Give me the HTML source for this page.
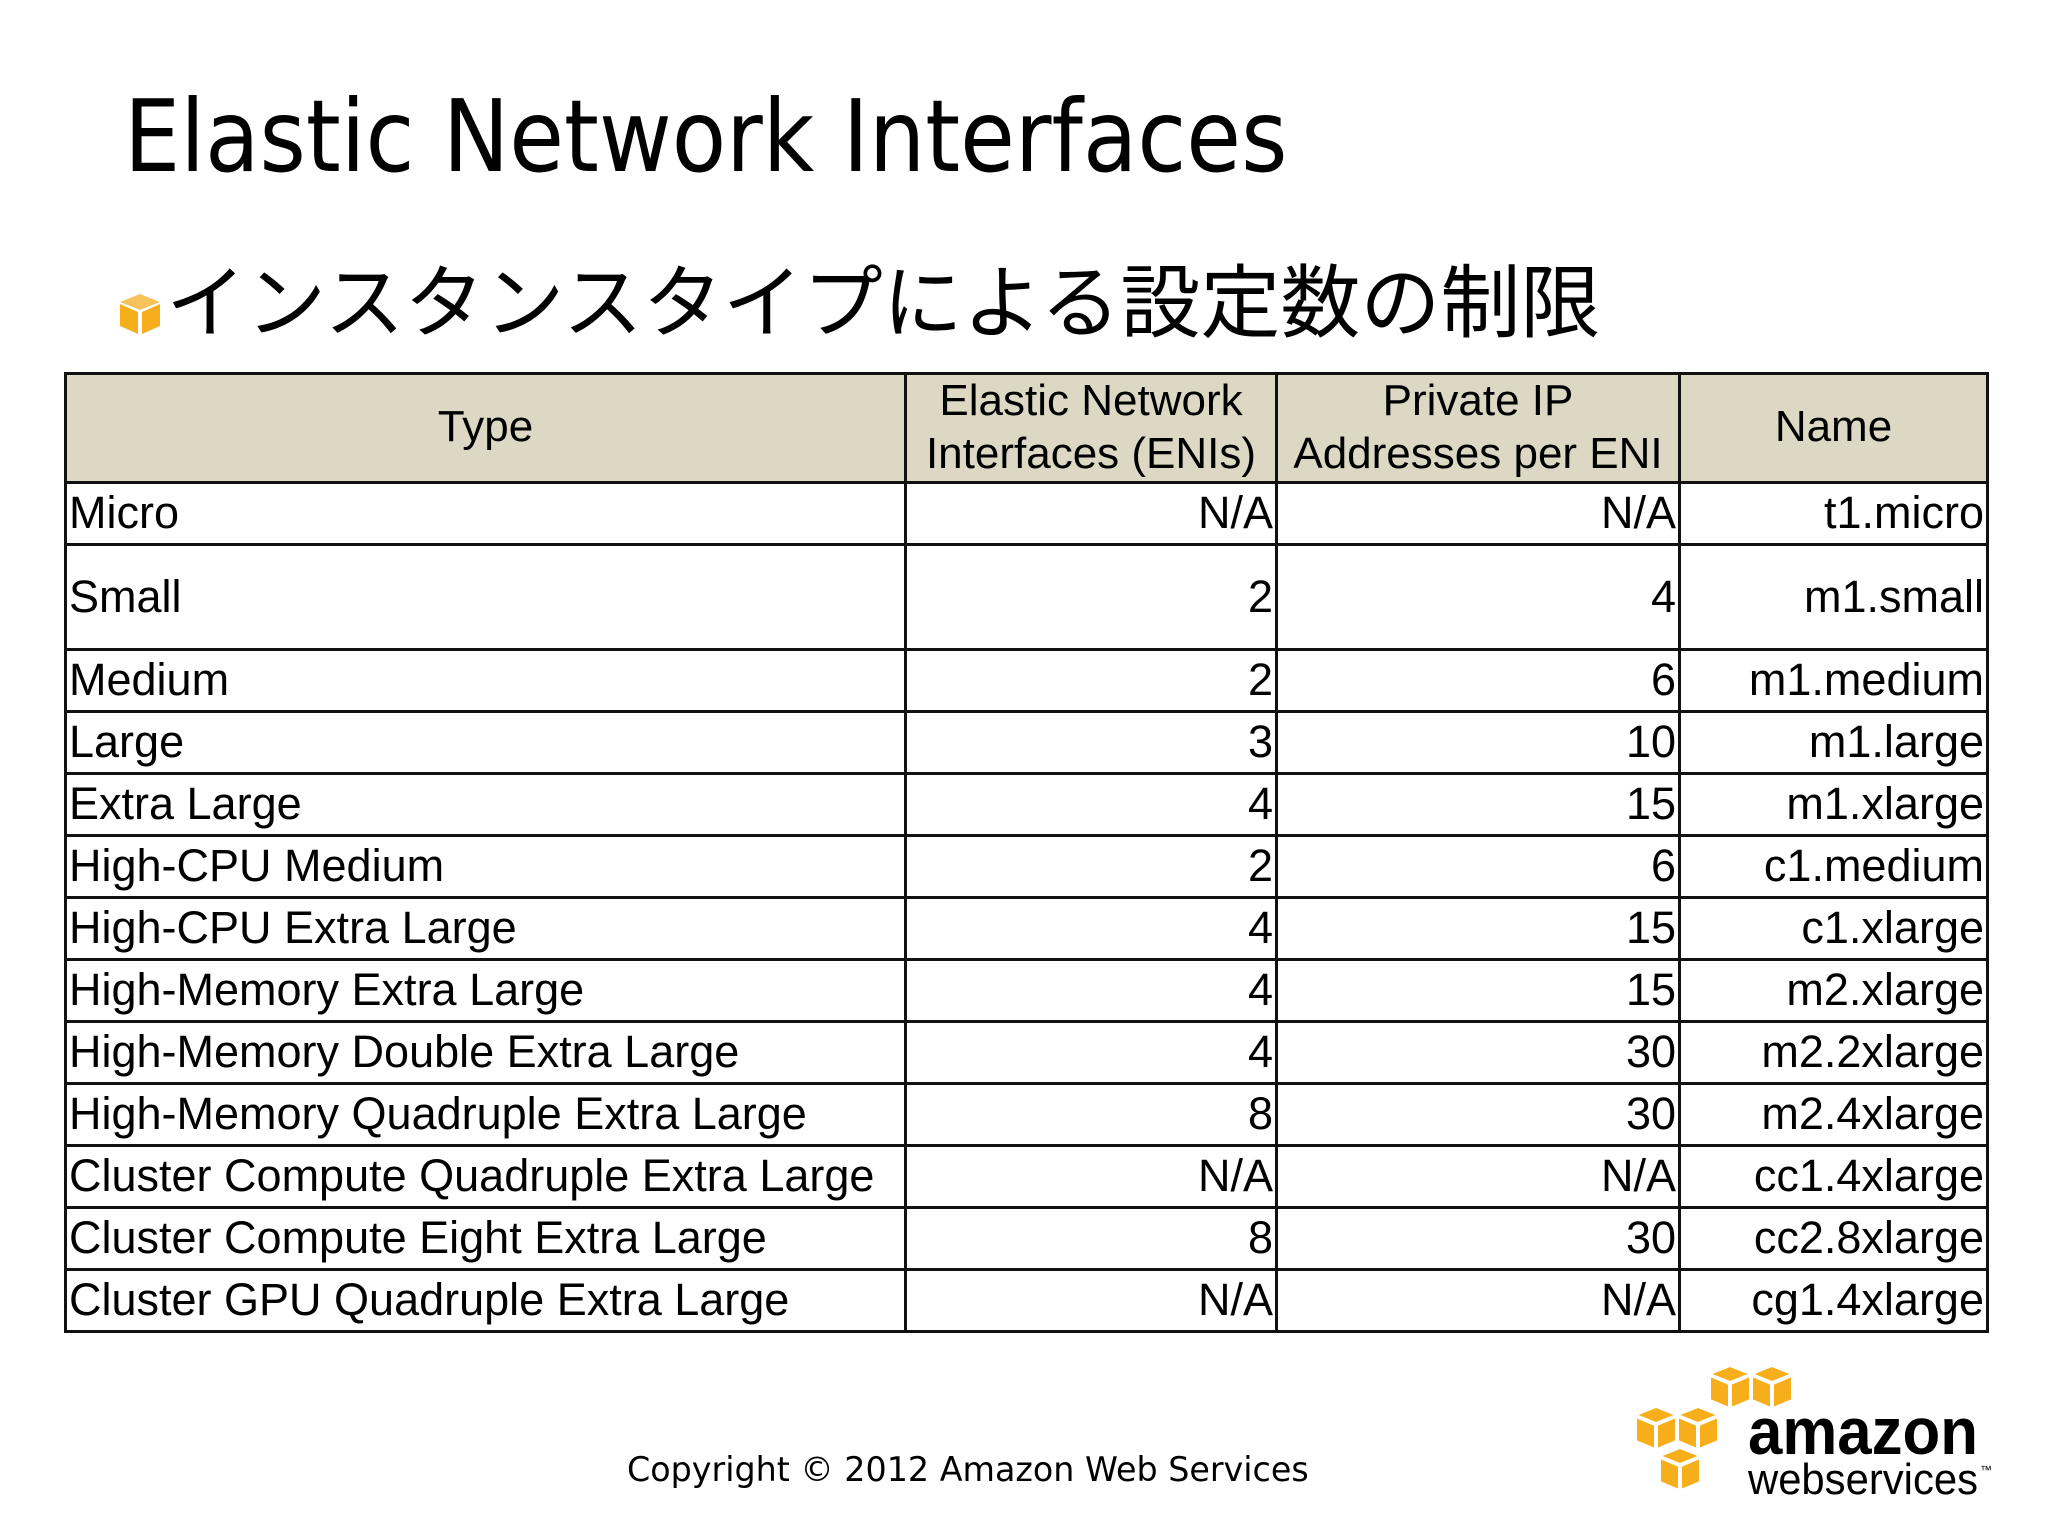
<!DOCTYPE html>
<html><head><meta charset="utf-8">
<style>
html,body{margin:0;padding:0;background:#fff;}
body{width:2048px;height:1536px;position:relative;overflow:hidden;font-family:"Liberation Sans",Arial,sans-serif;}
.title{position:absolute;left:124px;top:78px;font-family:"DejaVu Sans",sans-serif;font-size:100px;color:#000;white-space:nowrap;transform:scaleX(0.89);transform-origin:left top;}
.sub{position:absolute;left:166px;top:260px;font-family:"Liberation Sans","Noto Sans CJK JP",sans-serif;font-size:80px;white-space:nowrap;line-height:1.1;}
.bullet{position:absolute;left:116px;top:290px;}
table{position:absolute;left:64px;top:372px;border-collapse:collapse;font-size:45px;table-layout:fixed;}
td,th{border:3px solid #111;padding:0 2px 0 2px;white-space:nowrap;overflow:hidden;}
th{background:#dcd8c4;font-weight:normal;line-height:1.2;text-align:center;height:105px;font-size:44px;}
td.r{text-align:right;}
td.l{text-align:left;}
.copy{position:absolute;left:627px;top:1450px;font-family:"DejaVu Sans",sans-serif;font-size:34px;white-space:nowrap;transform:scaleX(0.98);transform-origin:left top;}
.logo{position:absolute;left:1636px;top:1362px;}
</style></head><body>
<div class="title">Elastic Network Interfaces</div>
<svg class="bullet" width="48" height="48" viewBox="0 0 48 48">
<polygon points="24,4 44,12 24,20 4,12" fill="#f7c25a"/>
<polygon points="4,14 22,22 22,44 4,36" fill="#f6ae1b"/>
<polygon points="26,22 44,14 44,36 26,44" fill="#f6ae1b"/>
</svg>
<div class="sub">インスタンスタイプによる設定数の制限</div>
<table>
<colgroup><col style="width:840px"><col style="width:371px"><col style="width:403px"><col style="width:308px"></colgroup>
<tr><th>Type</th><th>Elastic Network<br>Interfaces (ENIs)</th><th>Private IP<br>Addresses per ENI</th><th>Name</th></tr>
<tr style="height:62px"><td class="l">Micro</td><td class="r">N/A</td><td class="r">N/A</td><td class="r">t1.micro</td></tr>
<tr style="height:105px"><td class="l">Small</td><td class="r">2</td><td class="r">4</td><td class="r">m1.small</td></tr>
<tr style="height:62px"><td class="l">Medium</td><td class="r">2</td><td class="r">6</td><td class="r">m1.medium</td></tr>
<tr style="height:62px"><td class="l">Large</td><td class="r">3</td><td class="r">10</td><td class="r">m1.large</td></tr>
<tr style="height:62px"><td class="l">Extra Large</td><td class="r">4</td><td class="r">15</td><td class="r">m1.xlarge</td></tr>
<tr style="height:62px"><td class="l">High-CPU Medium</td><td class="r">2</td><td class="r">6</td><td class="r">c1.medium</td></tr>
<tr style="height:62px"><td class="l">High-CPU Extra Large</td><td class="r">4</td><td class="r">15</td><td class="r">c1.xlarge</td></tr>
<tr style="height:62px"><td class="l">High-Memory Extra Large</td><td class="r">4</td><td class="r">15</td><td class="r">m2.xlarge</td></tr>
<tr style="height:62px"><td class="l">High-Memory Double Extra Large</td><td class="r">4</td><td class="r">30</td><td class="r">m2.2xlarge</td></tr>
<tr style="height:62px"><td class="l">High-Memory Quadruple Extra Large</td><td class="r">8</td><td class="r">30</td><td class="r">m2.4xlarge</td></tr>
<tr style="height:62px"><td class="l">Cluster Compute Quadruple Extra Large</td><td class="r">N/A</td><td class="r">N/A</td><td class="r">cc1.4xlarge</td></tr>
<tr style="height:62px"><td class="l">Cluster Compute Eight Extra Large</td><td class="r">8</td><td class="r">30</td><td class="r">cc2.8xlarge</td></tr>
<tr style="height:62px"><td class="l">Cluster GPU Quadruple Extra Large</td><td class="r">N/A</td><td class="r">N/A</td><td class="r">cg1.4xlarge</td></tr>
</table>
<div class="copy">Copyright © 2012 Amazon Web Services</div>
<svg class="logo" width="370" height="140" viewBox="0 0 370 140">
<g fill="#f6ae1b" stroke="#fff" stroke-width="2">
<g transform="translate(74,4)"><polygon points="0,8 20,0 40,8 20,16"/><polygon points="0,10 19,18 19,42 0,34"/><polygon points="21,18 40,10 40,34 21,42"/></g>
<g transform="translate(116,4)"><polygon points="0,8 20,0 40,8 20,16"/><polygon points="0,10 19,18 19,42 0,34"/><polygon points="21,18 40,10 40,34 21,42"/></g>
<g transform="translate(0,45)"><polygon points="0,8 20,0 40,8 20,16"/><polygon points="0,10 19,18 19,42 0,34"/><polygon points="21,18 40,10 40,34 21,42"/></g>
<g transform="translate(42,45)"><polygon points="0,8 20,0 40,8 20,16"/><polygon points="0,10 19,18 19,42 0,34"/><polygon points="21,18 40,10 40,34 21,42"/></g>
<g transform="translate(24,86)"><polygon points="0,8 20,0 40,8 20,16"/><polygon points="0,10 19,18 19,42 0,34"/><polygon points="21,18 40,10 40,34 21,42"/></g>
</g>
<text x="112" y="92" font-family="Liberation Sans, sans-serif" font-weight="bold" font-size="66" textLength="230" lengthAdjust="spacingAndGlyphs">amazon</text>
<text x="112" y="132" font-family="Liberation Sans, sans-serif" font-size="44" textLength="230" lengthAdjust="spacingAndGlyphs">webservices</text>
<text x="344" y="112" font-family="Liberation Sans, sans-serif" font-size="12">™</text>
</svg>
</body></html>
